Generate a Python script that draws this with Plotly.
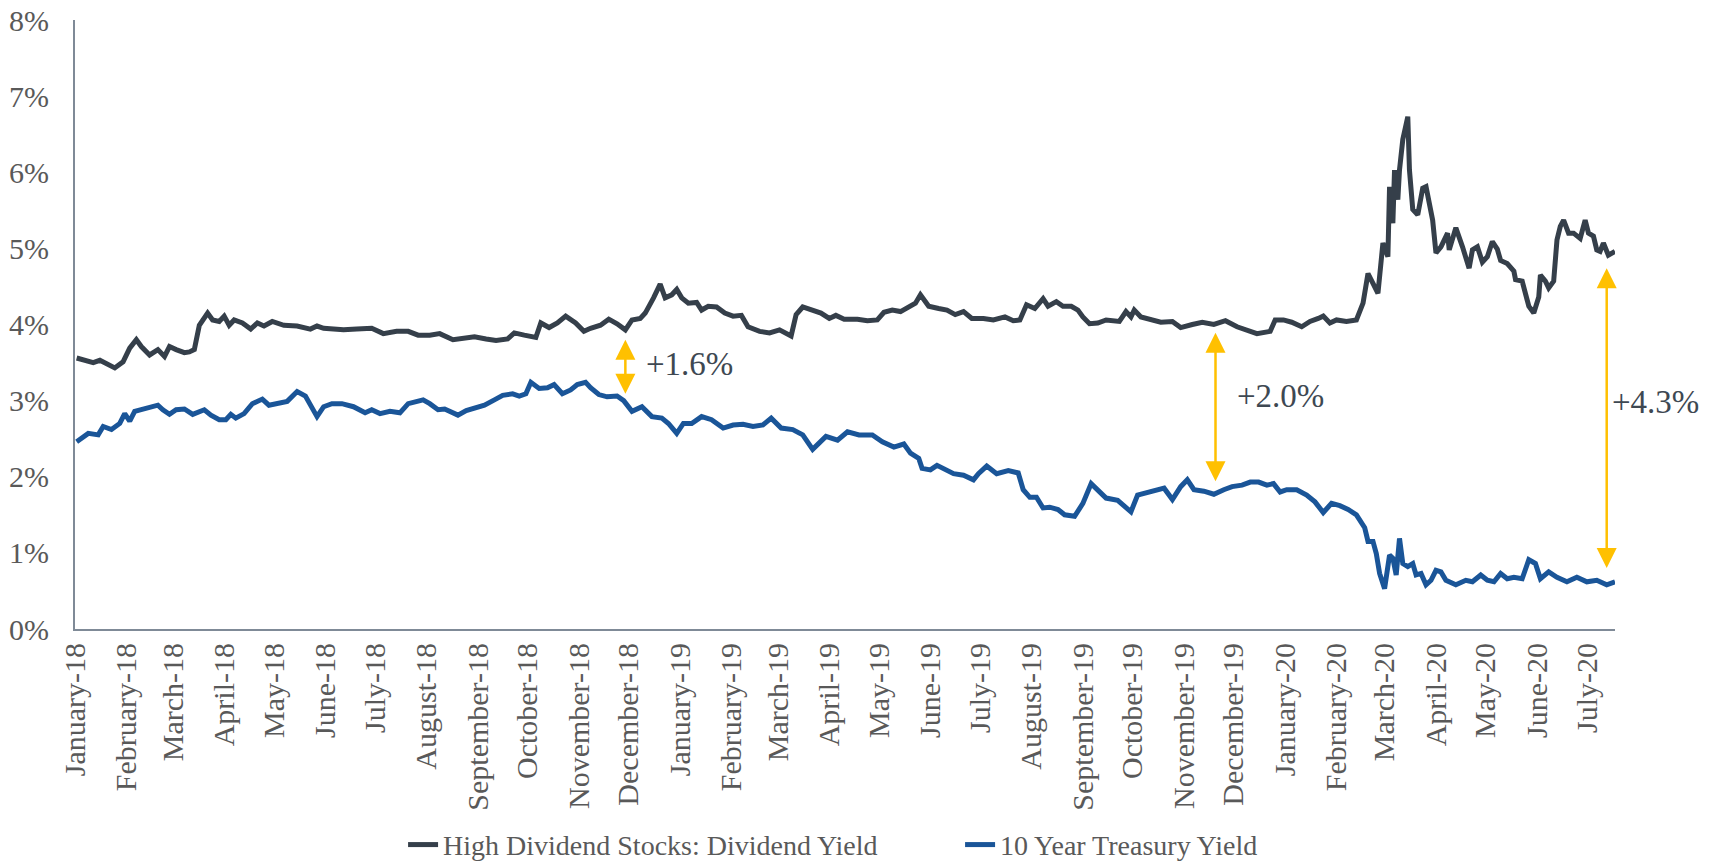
import plotly.graph_objects as go

# High dividend stocks: dividend yield (%)
div_dates = [
    "2018-01-02", "2018-01-08", "2018-01-12", "2018-01-16", "2018-01-20", "2018-01-25", "2018-01-30",
    "2018-02-03", "2018-02-07", "2018-02-10", "2018-02-15", "2018-02-20", "2018-02-24", "2018-02-27",
    "2018-03-03", "2018-03-08", "2018-03-11", "2018-03-14", "2018-03-17", "2018-03-22", "2018-03-25",
    "2018-03-29", "2018-04-01", "2018-04-04", "2018-04-07", "2018-04-12", "2018-04-17", "2018-04-21",
    "2018-04-25", "2018-04-30", "2018-05-07", "2018-05-15", "2018-05-23", "2018-05-27", "2018-05-31",
    "2018-06-08", "2018-06-12", "2018-06-20", "2018-06-29", "2018-07-06", "2018-07-14", "2018-07-21",
    "2018-07-27", "2018-08-03", "2018-08-09", "2018-08-17", "2018-08-23", "2018-08-30", "2018-09-06",
    "2018-09-12", "2018-09-19", "2018-09-23", "2018-09-29", "2018-10-06", "2018-10-09", "2018-10-14",
    "2018-10-19", "2018-10-24", "2018-10-30", "2018-11-04", "2018-11-08", "2018-11-14", "2018-11-19",
    "2018-11-24", "2018-11-29", "2018-12-03", "2018-12-08", "2018-12-11", "2018-12-16", "2018-12-20",
    "2018-12-23", "2018-12-27", "2018-12-30", "2019-01-02", "2019-01-06", "2019-01-11", "2019-01-14",
    "2019-01-18", "2019-01-23", "2019-01-28", "2019-02-02", "2019-02-07", "2019-02-11", "2019-02-18",
    "2019-02-24", "2019-03-02", "2019-03-09", "2019-03-12", "2019-03-16", "2019-03-21", "2019-03-27",
    "2019-04-01", "2019-04-05", "2019-04-10", "2019-04-18", "2019-04-24", "2019-04-30", "2019-05-04",
    "2019-05-09", "2019-05-14", "2019-05-19", "2019-05-23", "2019-05-26", "2019-05-31", "2019-06-06",
    "2019-06-11", "2019-06-16", "2019-06-21", "2019-06-26", "2019-07-03", "2019-07-09", "2019-07-16",
    "2019-07-21", "2019-07-25", "2019-07-29", "2019-08-03", "2019-08-08", "2019-08-11", "2019-08-16",
    "2019-08-20", "2019-08-25", "2019-08-29", "2019-09-01", "2019-09-05", "2019-09-10", "2019-09-15",
    "2019-09-23", "2019-09-27", "2019-09-30", "2019-10-02", "2019-10-06", "2019-10-12", "2019-10-18",
    "2019-10-25", "2019-10-30", "2019-11-06", "2019-11-12", "2019-11-19", "2019-11-26", "2019-12-03",
    "2019-12-08", "2019-12-15", "2019-12-23", "2019-12-26", "2019-12-31", "2020-01-05", "2020-01-11",
    "2020-01-16", "2020-01-21", "2020-01-24", "2020-01-28", "2020-02-01", "2020-02-07", "2020-02-13",
    "2020-02-17", "2020-02-20", "2020-02-23", "2020-02-26", "2020-02-29", "2020-03-03", "2020-03-04",
    "2020-03-06", "2020-03-07", "2020-03-09", "2020-03-10", "2020-03-12", "2020-03-15", "2020-03-16",
    "2020-03-18", "2020-03-19", "2020-03-21", "2020-03-24", "2020-03-26", "2020-03-30", "2020-04-01",
    "2020-04-04", "2020-04-08", "2020-04-09", "2020-04-13", "2020-04-17", "2020-04-21", "2020-04-23",
    "2020-04-26", "2020-04-29", "2020-05-02", "2020-05-05", "2020-05-08", "2020-05-10", "2020-05-14",
    "2020-05-18", "2020-05-19", "2020-05-23", "2020-05-25", "2020-05-27", "2020-05-30", "2020-06-02",
    "2020-06-03", "2020-06-06", "2020-06-08", "2020-06-11", "2020-06-13", "2020-06-15", "2020-06-17",
    "2020-06-20", "2020-06-23", "2020-06-27", "2020-06-30", "2020-07-02", "2020-07-05", "2020-07-07",
    "2020-07-09", "2020-07-11", "2020-07-14", "2020-07-18",
]
div_yield = [
    3.56, 3.53, 3.50, 3.53, 3.48, 3.43, 3.51,
    3.69, 3.80, 3.71, 3.60, 3.67, 3.58, 3.71,
    3.67, 3.63, 3.64, 3.67, 3.99, 4.15, 4.06,
    4.04, 4.11, 3.99, 4.06, 4.02, 3.94, 4.02,
    3.98, 4.04, 3.99, 3.98, 3.94, 3.98, 3.95,
    3.93, 3.93, 3.94, 3.95, 3.88, 3.91, 3.91,
    3.86, 3.86, 3.88, 3.80, 3.82, 3.84, 3.81,
    3.79, 3.81, 3.89, 3.86, 3.83, 4.02, 3.96,
    4.02, 4.11, 4.02, 3.91, 3.95, 3.99, 4.07,
    4.01, 3.93, 4.06, 4.08, 4.15, 4.35, 4.53,
    4.35, 4.39, 4.46, 4.35, 4.28, 4.29, 4.19,
    4.24, 4.23, 4.15, 4.11, 4.12, 3.97, 3.91,
    3.89, 3.93, 3.85, 4.13, 4.23, 4.20, 4.15,
    4.08, 4.12, 4.07, 4.07, 4.05, 4.06, 4.16,
    4.19, 4.17, 4.24, 4.28, 4.39, 4.24, 4.21,
    4.19, 4.13, 4.17, 4.08, 4.08, 4.06, 4.10,
    4.05, 4.06, 4.26, 4.21, 4.34, 4.24, 4.30,
    4.24, 4.24, 4.19, 4.10, 4.01, 4.02, 4.06,
    4.04, 4.17, 4.10, 4.19, 4.10, 4.06, 4.03,
    4.04, 3.96, 4.00, 4.03, 4.00, 4.05, 3.97,
    3.93, 3.88, 3.91, 4.06, 4.06, 4.03, 3.97,
    4.04, 4.08, 4.11, 4.02, 4.06, 4.04, 4.06,
    4.28, 4.67, 4.54, 4.41, 5.07, 4.89, 5.81,
    5.33, 6.03, 5.64, 6.03, 6.43, 6.73, 6.03,
    5.51, 5.49, 5.44, 5.79, 5.81, 5.37, 4.94,
    5.02, 5.20, 4.98, 5.27, 5.02, 4.74, 4.98,
    5.02, 4.82, 4.89, 5.09, 4.99, 4.84, 4.80,
    4.70, 4.59, 4.57, 4.39, 4.24, 4.15, 4.36,
    4.65, 4.57, 4.48, 4.57, 5.11, 5.29, 5.37,
    5.20, 5.20, 5.13, 5.37, 5.20, 5.16, 4.98,
    4.96, 5.07, 4.91, 4.96,
]

# 10 year treasury yield (%)
tsy_dates = [
    "2018-01-02", "2018-01-07", "2018-01-09", "2018-01-15", "2018-01-18", "2018-01-23", "2018-01-28",
    "2018-01-31", "2018-02-03", "2018-02-06", "2018-02-10", "2018-02-14", "2018-02-20", "2018-02-23",
    "2018-02-27", "2018-03-03", "2018-03-08", "2018-03-13", "2018-03-20", "2018-03-24", "2018-03-29",
    "2018-04-02", "2018-04-05", "2018-04-08", "2018-04-13", "2018-04-18", "2018-04-24", "2018-04-28",
    "2018-05-04", "2018-05-09", "2018-05-15", "2018-05-20", "2018-05-27", "2018-05-31", "2018-06-05",
    "2018-06-11", "2018-06-18", "2018-06-25", "2018-06-29", "2018-07-04", "2018-07-10", "2018-07-16",
    "2018-07-21", "2018-07-26", "2018-07-30", "2018-08-03", "2018-08-08", "2018-08-12", "2018-08-20",
    "2018-08-25", "2018-08-31", "2018-09-05", "2018-09-11", "2018-09-16", "2018-09-22", "2018-09-26",
    "2018-09-30", "2018-10-03", "2018-10-08", "2018-10-13", "2018-10-17", "2018-10-22", "2018-10-27",
    "2018-10-31", "2018-11-05", "2018-11-08", "2018-11-13", "2018-11-18", "2018-11-24", "2018-11-28",
    "2018-12-03", "2018-12-09", "2018-12-15", "2018-12-21", "2018-12-25", "2018-12-30", "2019-01-03",
    "2019-01-08", "2019-01-14", "2019-01-20", "2019-01-27", "2019-02-02", "2019-02-08", "2019-02-14",
    "2019-02-20", "2019-02-25", "2019-03-03", "2019-03-10", "2019-03-16", "2019-03-22", "2019-03-30",
    "2019-04-06", "2019-04-12", "2019-04-19", "2019-04-27", "2019-05-03", "2019-05-10", "2019-05-16",
    "2019-05-20", "2019-05-25", "2019-05-27", "2019-06-01", "2019-06-05", "2019-06-11", "2019-06-15",
    "2019-06-21", "2019-06-27", "2019-06-30", "2019-07-05", "2019-07-11", "2019-07-18", "2019-07-24",
    "2019-07-27", "2019-07-31", "2019-08-04", "2019-08-08", "2019-08-12", "2019-08-17", "2019-08-21",
    "2019-08-27", "2019-09-01", "2019-09-06", "2019-09-10", "2019-09-15", "2019-09-22", "2019-09-24",
    "2019-09-30", "2019-10-04", "2019-10-09", "2019-10-14", "2019-10-20", "2019-10-25", "2019-10-30",
    "2019-11-03", "2019-11-07", "2019-11-13", "2019-11-19", "2019-11-25", "2019-11-30", "2019-12-06",
    "2019-12-11", "2019-12-16", "2019-12-21", "2019-12-25", "2019-12-29", "2020-01-02", "2020-01-08",
    "2020-01-14", "2020-01-19", "2020-01-24", "2020-01-29", "2020-02-03", "2020-02-08", "2020-02-13",
    "2020-02-18", "2020-02-20", "2020-02-23", "2020-02-25", "2020-02-27", "2020-03-01", "2020-03-03",
    "2020-03-04", "2020-03-06", "2020-03-08", "2020-03-10", "2020-03-12", "2020-03-15", "2020-03-18",
    "2020-03-20", "2020-03-23", "2020-03-26", "2020-03-29", "2020-04-01", "2020-04-04", "2020-04-07",
    "2020-04-13", "2020-04-19", "2020-04-23", "2020-04-28", "2020-05-02", "2020-05-06", "2020-05-10",
    "2020-05-14", "2020-05-18", "2020-05-23", "2020-05-27", "2020-05-31", "2020-06-03", "2020-06-08",
    "2020-06-13", "2020-06-19", "2020-06-25", "2020-07-01", "2020-07-07", "2020-07-13", "2020-07-18",
]
tsy_yield = [
    2.46, 2.53, 2.57, 2.55, 2.66, 2.62, 2.70,
    2.83, 2.73, 2.86, 2.88, 2.91, 2.94, 2.88,
    2.82, 2.88, 2.89, 2.82, 2.88, 2.81, 2.75,
    2.75, 2.82, 2.77, 2.83, 2.96, 3.02, 2.94,
    2.96, 2.99, 3.12, 3.06, 2.79, 2.92, 2.96,
    2.96, 2.92, 2.84, 2.88, 2.83, 2.86, 2.84,
    2.96, 2.99, 3.01, 2.96, 2.88, 2.89, 2.81,
    2.87, 2.90, 2.94, 3.01, 3.07, 3.09, 3.06,
    3.09, 3.24, 3.16, 3.17, 3.21, 3.09, 3.14,
    3.21, 3.24, 3.17, 3.08, 3.05, 3.06, 3.00,
    2.86, 2.92, 2.79, 2.77, 2.70, 2.57, 2.70,
    2.70, 2.79, 2.75, 2.64, 2.68, 2.69, 2.66,
    2.68, 2.77, 2.64, 2.62, 2.55, 2.36, 2.53,
    2.48, 2.59, 2.55, 2.55, 2.46, 2.39, 2.43,
    2.31, 2.24, 2.11, 2.09, 2.15, 2.09, 2.04,
    2.02, 1.96, 2.04, 2.14, 2.04, 2.08, 2.05,
    1.83, 1.73, 1.73, 1.59, 1.60, 1.57, 1.50,
    1.48, 1.65, 1.91, 1.83, 1.72, 1.69, 1.65,
    1.54, 1.76, 1.79, 1.83, 1.85, 1.70, 1.87,
    1.96, 1.83, 1.81, 1.77, 1.83, 1.87, 1.89,
    1.93, 1.93, 1.89, 1.91, 1.80, 1.83, 1.83,
    1.76, 1.67, 1.53, 1.65, 1.62, 1.57, 1.50,
    1.33, 1.15, 1.15, 0.99, 0.73, 0.53, 0.86,
    0.97, 0.93, 0.71, 1.19, 0.86, 0.82, 0.86,
    0.71, 0.73, 0.58, 0.64, 0.77, 0.75, 0.64,
    0.58, 0.64, 0.62, 0.71, 0.64, 0.62, 0.73,
    0.66, 0.68, 0.66, 0.91, 0.86, 0.66, 0.75,
    0.68, 0.62, 0.68, 0.62, 0.64, 0.58, 0.62,
]

# Spread call-outs: arrow date, arrow ends (%), label
spread_dates = ["2018-11-29", "2019-11-20", "2020-07-13"]
spread_top = [3.80, 3.89, 4.74]
spread_bottom = [3.07, 1.92, 0.78]
spread_labels = ["+1.6%", "+2.0%", "+4.3%"]
label_dates = ["2018-12-10", "2019-12-02", "2020-07-15"]
label_levels = [3.48, 3.06, 2.98]

# Axis ticks
y_ticks = list(range(0, 9))
y_tick_text = [f"{v}%" for v in y_ticks]
tick_dates = [f"{y}-{m:02d}-01" for y in (2018, 2019, 2020) for m in range(1, 13)
              if not (y == 2020 and m > 7)]
month_names = ["January", "February", "March", "April", "May", "June", "July",
               "August", "September", "October", "November", "December"]
tick_text = [f"{month_names[int(d[5:7]) - 1]}-{d[2:4]}" for d in tick_dates]

FONT = "Liberation Serif"
DARK = "#353F4A"
BLUE = "#1A5598"
GOLD = "#FFC000"
AXIS = "#7F8A97"
TEXT = "#595959"

fig = go.Figure()
fig.add_trace(go.Scatter(
    x=div_dates, y=div_yield, mode="lines",
    name="High Dividend Stocks: Dividend Yield",
    line=dict(color=DARK, width=5),
))
fig.add_trace(go.Scatter(
    x=tsy_dates, y=tsy_yield, mode="lines",
    name="10 Year Treasury Yield",
    line=dict(color=BLUE, width=5),
))

for d, top, bot in zip(spread_dates, spread_top, spread_bottom):
    fig.add_annotation(
        x=d, y=top, ax=d, ay=bot, xref="x", yref="y", axref="x", ayref="y",
        text="", showarrow=True, arrowhead=2, arrowside="end+start",
        arrowsize=1.6, arrowwidth=2.5, arrowcolor=GOLD,
    )
for d, lvl, txt in zip(label_dates, label_levels, spread_labels):
    fig.add_annotation(
        x=d, y=lvl, xref="x", yref="y", text=txt, showarrow=False,
        xanchor="left", yanchor="middle",
        font=dict(family=FONT, size=33, color="#3E4852"),
    )

fig.update_layout(
    width=1724, height=863,
    margin=dict(l=75, r=109, t=20, b=234, autoexpand=False),
    paper_bgcolor="white", plot_bgcolor="white",
    font=dict(family=FONT, color=TEXT),
    showlegend=True,
    legend=dict(
        orientation="h", xref="container", yref="container",
        x=0.2338, y=0.021, xanchor="left", yanchor="middle",
        font=dict(family=FONT, size=28, color=TEXT),
        entrywidth=512, entrywidthmode="pixels",
        bgcolor="rgba(0,0,0,0)",
    ),
)
fig.update_xaxes(
    type="date", range=["2018-01-01", "2020-07-18"],
    tickmode="array", tickvals=tick_dates, ticktext=tick_text,
    tickangle=-90, tickfont=dict(family=FONT, size=30, color=TEXT),
    showgrid=False, zeroline=False, automargin=False,
    showline=True, linecolor=AXIS, linewidth=2, ticks="", ticklen=0,
)
fig.update_yaxes(
    range=[0, 8], tickmode="array", tickvals=y_ticks, ticktext=y_tick_text,
    tickfont=dict(family=FONT, size=30, color=TEXT),
    showgrid=False, zeroline=False, automargin=False,
    showline=True, linecolor=AXIS, linewidth=2, ticks="", ticklen=0,
    ticklabelstandoff=18,
)

fig.write_html("out.html")
